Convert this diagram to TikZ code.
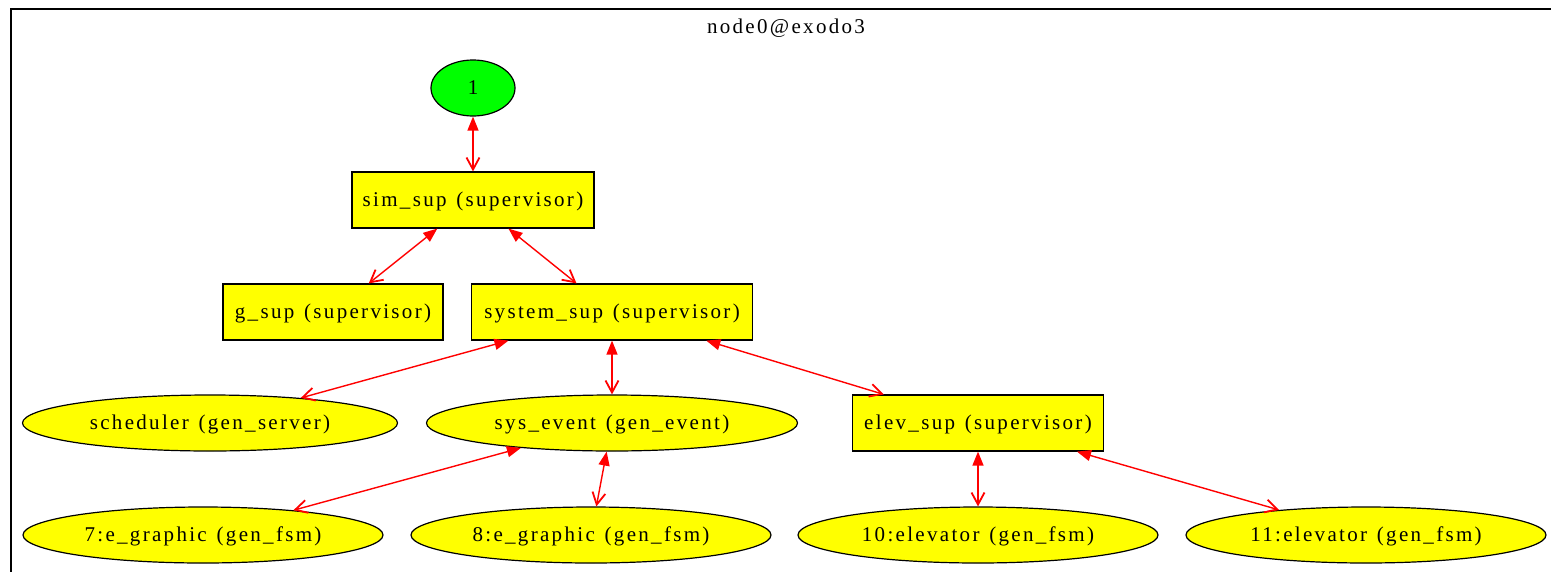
\documentclass[tikz,border=0pt]{standalone}
\usepackage{fontspec}
\setmainfont{Liberation Serif}[LetterSpace=11,WordSpace=1.3]
\usetikzlibrary{shapes.geometric,arrows.meta}
\definecolor{procyellow}{HTML}{FFFF00}
\definecolor{rootgreen}{HTML}{00FF00}
\definecolor{linkred}{HTML}{FF0000}
\tikzset{
  label font/.style={font=\fontsize{21}{25}\selectfont, text height=15pt, text depth=2pt},
  supbox/.style={draw=black, line width=1.2pt, fill=procyellow, rectangle,
    inner sep=0pt, minimum height=56pt, label font},
  worker/.style={draw=black, line width=1.2pt, fill=procyellow, ellipse,
    inner sep=0pt, minimum height=56pt, label font},
  rootnode/.style={draw=black, line width=1.2pt, fill=rootgreen, ellipse,
    inner sep=0pt, minimum width=84pt, minimum height=56pt, label font},
  link/.style={draw=linkred, line width=1.4pt,
    {Triangle[length=14pt,width=11pt]}-{Straight Barb[length=12pt,width=13pt,line width=1.8pt]}},
}
\begin{document}
\begin{tikzpicture}[x=1pt,y=-1pt]
  \useasboundingbox (0,0) rectangle (1551,571);
  \clip (0,0) rectangle (1551,571);
  % cluster frame
  \draw[line width=1.3pt] (11,590) -- (11,9) -- (1570,9);
  \node[label font] (title) at (786,27) {node0@exodo3};

  % nodes
  \node[rootnode] (root) at (473,88) {1};
  \node[supbox, minimum width=242pt] (simsup) at (473,200) {sim\_sup (supervisor)};
  \node[supbox, minimum width=220pt] (gsup) at (333,312) {g\_sup (supervisor)};
  \node[supbox, minimum width=281pt] (systemsup) at (612,312) {system\_sup (supervisor)};
  \node[worker, minimum width=375pt] (scheduler) at (210,423) {scheduler (gen\_server)};
  \node[worker, minimum width=371pt] (sysevent) at (612,423) {sys\_event (gen\_event)};
  \node[supbox, minimum width=251pt] (elevsup) at (978,423) {elev\_sup (supervisor)};
  \node[worker, minimum width=360pt] (egA) at (203,535) {7:e\_graphic (gen\_fsm)};
  \node[worker, minimum width=360pt] (egB) at (591,535) {8:e\_graphic (gen\_fsm)};
  \node[worker, minimum width=360pt] (elA) at (978,535) {10:elevator (gen\_fsm)};
  \node[worker, minimum width=360pt] (elB) at (1366,535) {11:elevator (gen\_fsm)};

  % supervision links
  \draw[link] (root) -- (simsup);
  \draw[link] (simsup) -- (gsup);
  \draw[link] (simsup) -- (systemsup);
  \draw[link] (systemsup) -- (scheduler);
  \draw[link] (systemsup) -- (sysevent);
  \draw[link] (systemsup) -- (elevsup);
  \draw[link] (sysevent) -- (egA);
  \draw[link] (sysevent) -- (egB);
  \draw[link] (elevsup) -- (elA);
  \draw[link] (elevsup) -- (elB);
\end{tikzpicture}
\end{document}
